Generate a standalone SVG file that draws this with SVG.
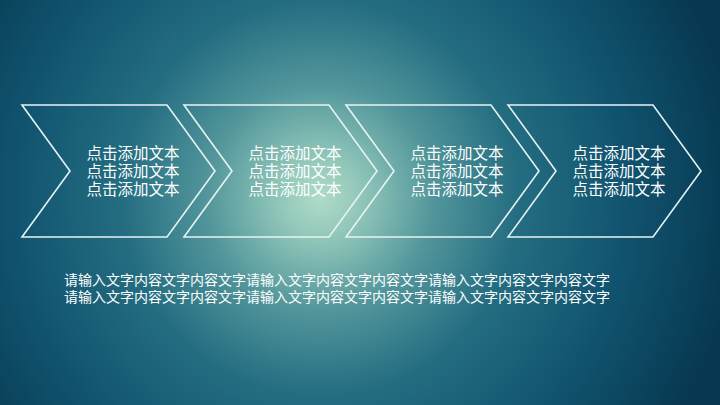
<svg xmlns="http://www.w3.org/2000/svg" width="720" height="405" viewBox="0 0 720 405">
<defs>
<radialGradient id="bg" gradientUnits="userSpaceOnUse" cx="320" cy="198" r="420">
<stop offset="0" stop-color="#b0dcc8"/>
<stop offset="0.1" stop-color="#90c6b9"/>
<stop offset="0.27" stop-color="#52969b"/>
<stop offset="0.47" stop-color="#246d81"/>
<stop offset="0.72" stop-color="#115470"/>
<stop offset="1" stop-color="#073850"/>
</radialGradient>
<style>
.chev{fill:none;stroke:#e6f3f3;stroke-width:1.6;stroke-linejoin:miter}
.t{font-family:"Liberation Sans","Noto Sans CJK SC",sans-serif;fill:#ffffff}
.lbl{font-size:15.5px;text-anchor:middle}
.body{font-size:14px}
</style>
</defs>
<rect width="720" height="405" fill="url(#bg)"/>
<g id="step1">
<polygon class="chev" points="22,105 167,105 215,171 167,237 22,237 70,171"/>
<text class="t lbl"><tspan x="133" y="159">点击添加文本</tspan><tspan x="133" y="177">点击添加文本</tspan><tspan x="133" y="195">点击添加文本</tspan></text>
</g>
<g id="step2">
<polygon class="chev" points="184,105 329,105 377,171 329,237 184,237 232,171"/>
<text class="t lbl"><tspan x="295" y="159">点击添加文本</tspan><tspan x="295" y="177">点击添加文本</tspan><tspan x="295" y="195">点击添加文本</tspan></text>
</g>
<g id="step3">
<polygon class="chev" points="346,105 491,105 539,171 491,237 346,237 394,171"/>
<text class="t lbl"><tspan x="457" y="159">点击添加文本</tspan><tspan x="457" y="177">点击添加文本</tspan><tspan x="457" y="195">点击添加文本</tspan></text>
</g>
<g id="step4">
<polygon class="chev" points="508,105 653,105 701,171 653,237 508,237 556,171"/>
<text class="t lbl"><tspan x="619" y="159">点击添加文本</tspan><tspan x="619" y="177">点击添加文本</tspan><tspan x="619" y="195">点击添加文本</tspan></text>
</g>
<g id="connectors"></g>
<g id="desc">
<text class="t body"><tspan x="64" y="285">请输入文字内容文字内容文字请输入文字内容文字内容文字请输入文字内容文字内容文字</tspan><tspan x="64" y="302">请输入文字内容文字内容文字请输入文字内容文字内容文字请输入文字内容文字内容文字</tspan></text>
</g>
</svg>
